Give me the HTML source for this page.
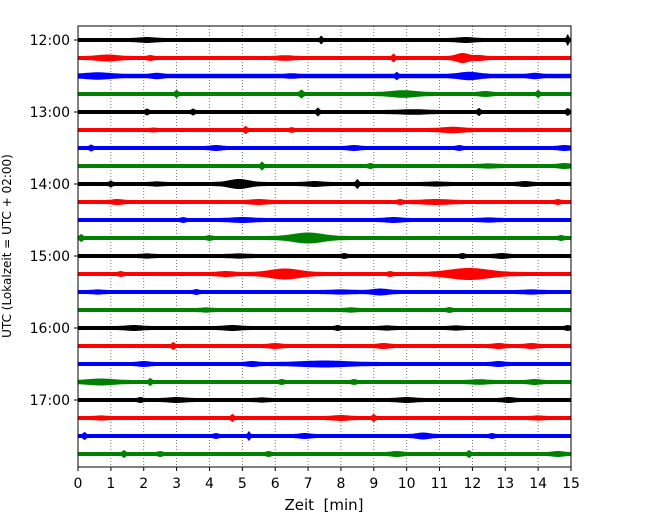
<!DOCTYPE html>
<html><head><meta charset="utf-8"><style>
body{margin:0;background:#fff;font-family:"Liberation Sans","DejaVu Sans",sans-serif}
</style></head><body>
<svg id="chart" width="650" height="520" xmlns="http://www.w3.org/2000/svg" font-family="DejaVu Sans, Liberation Sans, sans-serif">
<g id="grid"></g>
<g id="traces"></g>
<rect x="78" y="26" width="493" height="441" fill="none" stroke="#000" stroke-width="1"/>
<g id="xaxis"></g>
<g id="yaxis"></g>
<text x="324" y="510" font-size="15" text-anchor="middle" xml:space="preserve">Zeit  [min]</text>
<text transform="translate(11,246) rotate(-90)" font-size="12" text-anchor="middle">UTC (Lokalzeit = UTC + 02:00)</text>
</svg>
<script>
const xTicks=[0,1,2,3,4,5,6,7,8,9,10,11,12,13,14,15];
const hourLabels=["12:00","13:00","14:00","15:00","16:00","17:00"];
const rowColors=["#000000","#ff0000","#0000ff","#008000"];
const baseAmp=[2.0,2.0,2.2,2.0,2.0,2.0,2.0,2.0,2.0,2.0,2.0,2.0,2.0,2.0,2.0,2.0,2.0,2.0,2.0,2.0,2.0,2.0,2.0,2.0];
// events per row: [minute, extra half-amplitude px, width min]
const rowEvents=[
[[2.1,1,0.3],[7.4,2.5,0.04],[11.8,1,0.3],[14.9,4,0.04]],
[[0.9,1.5,0.4],[2.2,1,0.1],[6.3,0.8,0.3],[9.6,2.5,0.05],[11.7,3,0.25],[12.2,1,0.2]],
[[0.6,1.5,0.5],[2.4,1,0.2],[6.5,0.6,0.2],[9.7,2,0.05],[11.9,2,0.4],[13.9,1,0.2]],
[[3.0,2,0.05],[6.8,2.5,0.06],[9.9,1.8,0.5],[12.4,1,0.2],[14.0,2,0.05]],
[[2.1,1.5,0.05],[3.5,1.5,0.05],[7.3,2.5,0.05],[10.2,0.8,0.5],[12.2,2,0.05],[14.9,2,0.05]],
[[2.3,0.5,0.1],[5.1,2,0.05],[6.5,1,0.06],[11.4,1.2,0.4]],
[[0.4,1.5,0.06],[4.2,1,0.2],[8.4,1,0.2],[11.6,1,0.1],[14.8,1,0.2]],
[[5.6,2.5,0.05],[8.9,1,0.08],[12.5,0.6,0.3],[14.8,1,0.2]],
[[1.0,1.5,0.05],[2.4,0.6,0.2],[4.9,3,0.4],[7.2,1,0.3],[8.5,3,0.05],[10.9,0.6,0.3],[13.6,1,0.2]],
[[1.2,1,0.2],[5.5,1,0.3],[9.8,1,0.08],[10.9,1,0.5],[14.6,1,0.08]],
[[3.2,1,0.08],[5.0,1,0.4],[9.6,1,0.3],[12.5,0.6,0.3]],
[[0.1,2,0.05],[4.0,1,0.08],[7.0,3.5,0.6],[14.7,1,0.08]],
[[2.1,0.6,0.2],[4.9,0.6,0.3],[8.1,1,0.08],[11.7,1,0.08],[12.9,1,0.2]],
[[1.3,1,0.08],[4.5,1,0.3],[6.3,3.5,0.6],[9.5,1,0.08],[11.9,4,0.8]],
[[0.6,0.6,0.2],[3.6,1,0.08],[8.0,0.6,0.4],[9.2,1.5,0.3],[13.8,0.6,0.3]],
[[3.9,0.6,0.2],[8.3,0.6,0.2],[11.3,1,0.08]],
[[1.7,1,0.3],[4.7,1,0.3],[7.9,1,0.08],[9.4,0.6,0.2],[11.5,0.6,0.2],[14.9,1,0.08]],
[[2.9,2,0.05],[6.0,1,0.2],[9.3,1,0.2],[12.8,1,0.2],[13.8,1,0.2]],
[[2.0,1,0.2],[5.3,1,0.2],[7.5,1.5,0.9],[12.8,1,0.2]],
[[0.7,1.5,0.5],[2.2,2,0.05],[6.2,1,0.08],[8.4,1,0.08],[12.2,0.8,0.3],[13.9,1,0.2]],
[[1.9,1,0.08],[3.0,1,0.3],[5.6,0.6,0.2],[10.0,1,0.3],[13.1,1,0.2]],
[[0.7,0.6,0.2],[4.7,2,0.05],[8.0,1,0.3],[9.0,2,0.05],[14.0,0.6,0.2]],
[[0.2,2,0.05],[4.2,1,0.08],[5.2,3,0.04],[6.9,1,0.2],[10.5,1.5,0.25],[12.6,1,0.08]],
[[1.4,2,0.05],[2.5,1,0.08],[5.8,1,0.08],[9.7,1,0.2],[11.9,2,0.05],[14.6,1,0.2]]
];
const NS="http://www.w3.org/2000/svg";
const X0=78,X1=571,Y0=40,ROW=18;
const xs=m=>X0+(X1-X0)*m/15;
const ys=r=>Y0+ROW*r;
function mk(tag,attrs,parent){const e=document.createElementNS(NS,tag);for(const k in attrs)e.setAttribute(k,attrs[k]);parent.appendChild(e);return e;}
const grid=document.getElementById('grid'),tr=document.getElementById('traces'),xa=document.getElementById('xaxis'),ya=document.getElementById('yaxis');
xTicks.forEach(t=>{
  if(t>0&&t<15){const g=mk('line',{x1:xs(t),x2:xs(t),y1:26,y2:467,stroke:'#555','stroke-width':0.8,'stroke-dasharray':'1,2'},grid);
  
  }
  const tk=mk('line',{x1:xs(t),x2:xs(t),y1:467,y2:471,stroke:'#000'},xa);
  
  
  const tl=mk('text',{x:xs(t),y:488,'font-size':14,'text-anchor':'middle'},xa);
  tl.textContent=t;
  
  
});
hourLabels.forEach((h,i)=>{
  const y=ys(i*4);
  const tk=mk('line',{x1:74,x2:78,y1:y,y2:y,stroke:'#000'},ya);
  
  
  const tl=mk('text',{x:70,y:y+5,'font-size':14,'text-anchor':'end'},ya);
  tl.textContent=h;
  
  
});
rowEvents.forEach((evs,r)=>{
  const N=600,top=[],bot=[];
  for(let i=0;i<=N;i++){
    const m=15*i/N;let a=baseAmp[r];
    evs.forEach(e=>{a+=e[1]*Math.exp(-Math.pow((m-e[0])/e[2],2));});
    top.push(xs(m).toFixed(1)+','+(ys(r)-a).toFixed(1));
    bot.unshift(xs(m).toFixed(1)+','+(ys(r)+a).toFixed(1));
  }
  const p=mk('polygon',{points:top.concat(bot).join(' '),fill:rowColors[r%4]},tr);
  
  
});
</script>
</body></html>
